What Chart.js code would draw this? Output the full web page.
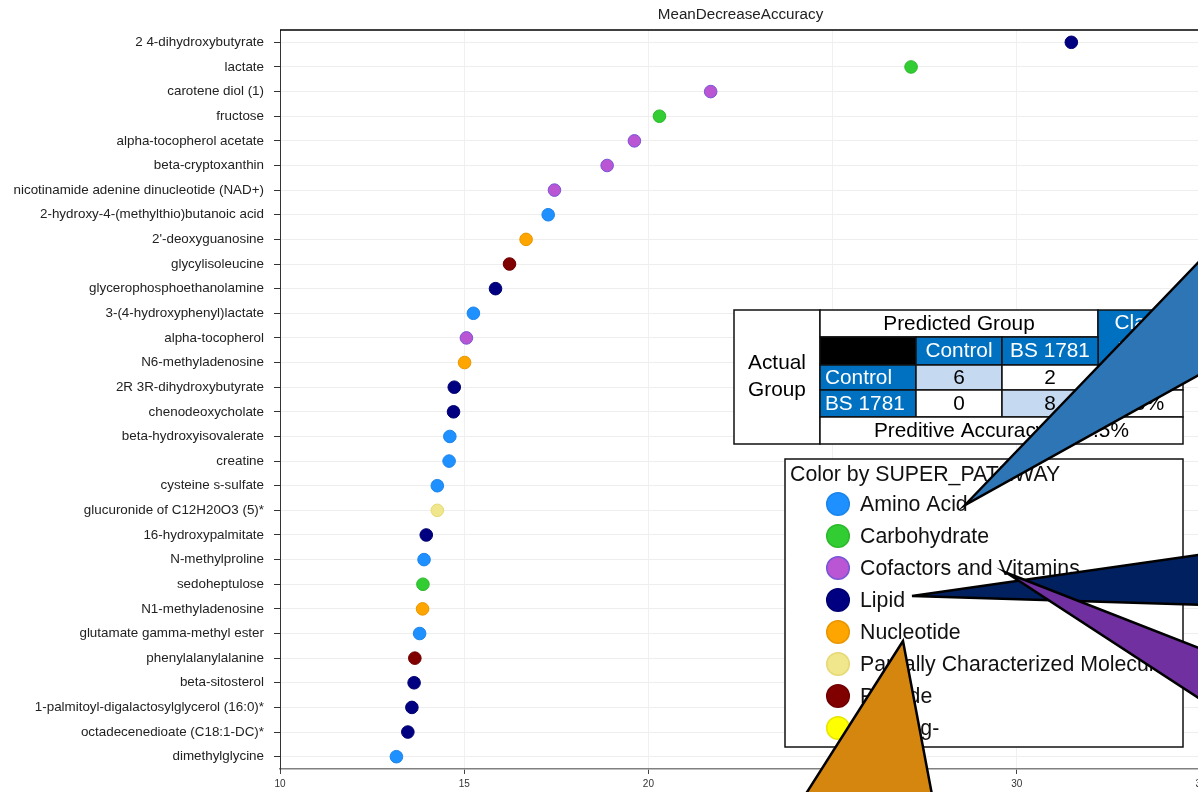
<!DOCTYPE html>
<html>
<head>
<meta charset="utf-8">
<title>MeanDecreaseAccuracy</title>
<script src="https://cdn.jsdelivr.net/npm/chart.js@4/dist/chart.umd.min.js"></script>
<style>
  html, body { margin: 0; padding: 0; background: #fff; overflow: hidden; }
  #wrap { position: absolute; left: 0; top: 0; width: 1240px; height: 792px; }
</style>
</head>
<body>
<div id="wrap"><canvas id="chart" width="1240" height="792"></canvas></div>
<script>
// Metabolites ranked by random-forest importance
const categories = [
  "2 4-dihydroxybutyrate", "lactate", "carotene diol (1)", "fructose",
  "alpha-tocopherol acetate", "beta-cryptoxanthin", "nicotinamide adenine dinucleotide (NAD+)",
  "2-hydroxy-4-(methylthio)butanoic acid", "2'-deoxyguanosine", "glycylisoleucine",
  "glycerophosphoethanolamine", "3-(4-hydroxyphenyl)lactate", "alpha-tocopherol",
  "N6-methyladenosine", "2R 3R-dihydroxybutyrate", "chenodeoxycholate",
  "beta-hydroxyisovalerate", "creatine", "cysteine s-sulfate", "glucuronide of C12H20O3 (5)*",
  "16-hydroxypalmitate", "N-methylproline", "sedoheptulose", "N1-methyladenosine",
  "glutamate gamma-methyl ester", "phenylalanylalanine", "beta-sitosterol",
  "1-palmitoyl-digalactosylglycerol (16:0)*", "octadecenedioate (C18:1-DC)*", "dimethylglycine"
];
const meanDecreaseAccuracy = [
  31.48, 27.13, 21.69, 20.30, 19.62, 18.88, 17.45, 17.28, 16.68, 16.23,
  15.85, 15.25, 15.06, 15.01, 14.73, 14.71, 14.61, 14.59, 14.27, 14.27,
  13.97, 13.91, 13.88, 13.87, 13.79, 13.66, 13.64, 13.58, 13.47, 13.16
];
const superPathway = [
  "Lipid", "Carbohydrate", "Cofactors and Vitamins", "Carbohydrate",
  "Cofactors and Vitamins", "Cofactors and Vitamins", "Cofactors and Vitamins",
  "Amino Acid", "Nucleotide", "Peptide",
  "Lipid", "Amino Acid", "Cofactors and Vitamins",
  "Nucleotide", "Lipid", "Lipid",
  "Amino Acid", "Amino Acid", "Amino Acid", "Partially Characterized Molecules",
  "Lipid", "Amino Acid", "Carbohydrate", "Nucleotide",
  "Amino Acid", "Peptide", "Lipid",
  "Lipid", "Lipid", "Amino Acid"
];
const pathwayNames = [
  "Amino Acid", "Carbohydrate", "Cofactors and Vitamins", "Lipid",
  "Nucleotide", "Partially Characterized Molecules", "Peptide", "Missing-"
];
const pathwayFill = ["#1E90FF", "#32CD32", "#BA55D3", "#000080", "#FFA500", "#F0E68C", "#800000", "#FFFF00"];
const pathwayEdge = ["#1C84EA", "#2DB82D", "#7656D6", "#000070", "#E89600", "#E6D874", "#700000", "#E6E600"];
const xTickValues = [10, 15, 20, 25, 30, 35];

// Confusion matrix summary
const groupNames = ["Control", "BS 1781"];
const confusion = [[6, 2], [0, 8]];
const classError = ["25.0%", "0.0%"];
const predictiveAccuracy = "87.5%";

const FONT = '"Liberation Sans", Arial, Helvetica, sans-serif';
const colorOf = name => pathwayFill[pathwayNames.indexOf(name)];
const edgeOf = name => pathwayEdge[pathwayNames.indexOf(name)];

// Callout wedges drawn over the key and the table
const callouts = [
  { fill: "#2E75B6", pts: [[965, 505], [1240, 219], [1240, 352]] },
  { fill: "#002060", pts: [[912, 596], [1240, 549], [1240, 606]] },
  { fill: "#7030A0", pts: [[1007, 573], [1240, 664], [1240, 725]] },
  { fill: "#D5860F", pts: [[903, 641], [802, 800], [933, 800]] }
];

function drawTable(ctx) {
  const L = 734, T = 310, R = 1183, B = 444;
  const c1 = 820, c2 = 916, c3 = 1002, c4 = 1098;
  const r1 = 337, r2 = 365, r3 = 390, r4 = 417;
  const blue = "#0070C0", light = "#C5D9F1";
  const cells = [
    [L, T, c1, B, "#fff"],
    [c1, T, c4, r1, "#fff"],
    [c4, T, R, r2, blue],
    [c1, r1, c2, r2, "#000"],
    [c2, r1, c3, r2, blue], [c3, r1, c4, r2, blue],
    [c1, r2, c2, r3, blue], [c2, r2, c3, r3, light], [c3, r2, c4, r3, "#fff"], [c4, r2, R, r3, "#fff"],
    [c1, r3, c2, r4, blue], [c2, r3, c3, r4, "#fff"], [c3, r3, c4, r4, light], [c4, r3, R, r4, "#fff"],
    [c1, r4, R, B, "#fff"]
  ];
  ctx.save();
  ctx.lineWidth = 1.5;
  ctx.strokeStyle = "#111";
  cells.forEach(([x0, y0, x1, y1, f]) => {
    ctx.fillStyle = f;
    ctx.fillRect(x0, y0, x1 - x0, y1 - y0);
    ctx.strokeRect(x0, y0, x1 - x0, y1 - y0);
  });
  ctx.font = "20.8px " + FONT;
  ctx.textBaseline = "middle";
  ctx.textAlign = "center";
  ctx.fillStyle = "#000";
  ctx.fillText("Actual", 777, 363);
  ctx.fillText("Group", 777, 390);
  ctx.fillText("Predicted Group", (c1 + c4) / 2, 324);
  ctx.fillStyle = "#fff";
  ctx.fillText("Class", (c4 + R) / 2, 323);
  ctx.fillText("Error", (c4 + R) / 2, 350);
  groupNames.forEach((g, i) => ctx.fillText(g, i === 0 ? (c2 + c3) / 2 : (c3 + c4) / 2, 351));
  ctx.textAlign = "left";
  groupNames.forEach((g, i) => ctx.fillText(g, c1 + 5, i === 0 ? 378 : 404));
  ctx.textAlign = "center";
  ctx.fillStyle = "#000";
  confusion.forEach((row, i) => {
    const y = i === 0 ? 378 : 404;
    ctx.fillText(String(row[0]), (c2 + c3) / 2, y);
    ctx.fillText(String(row[1]), (c3 + c4) / 2, y);
    ctx.fillText(classError[i], (c4 + R) / 2, y);
  });
  ctx.textAlign = "left";
  ctx.fillText("Preditive Accuracy = " + predictiveAccuracy, 874, 431);
  ctx.restore();
}

function drawKey(ctx) {
  const L = 785, T = 459, R = 1183, B = 747;
  ctx.save();
  ctx.fillStyle = "#fff";
  ctx.fillRect(L, T, R - L, B - T);
  ctx.beginPath();
  ctx.rect(L, T, R - L, B - T);
  ctx.clip();
  ctx.font = "21.3px " + FONT;
  ctx.textBaseline = "middle";
  ctx.textAlign = "left";
  ctx.fillStyle = "#111";
  ctx.fillText("Color by SUPER_PATHWAY", 790, 475);
  pathwayNames.forEach((name, i) => {
    const y = 504 + i * 32;
    ctx.beginPath();
    ctx.arc(838, y, 11.3, 0, Math.PI * 2);
    ctx.fillStyle = pathwayFill[i];
    ctx.fill();
    ctx.lineWidth = 1.5;
    ctx.strokeStyle = pathwayEdge[i];
    ctx.stroke();
    ctx.fillStyle = "#111";
    ctx.fillText(name, 860, y + 1);
  });
  ctx.restore();
  ctx.save();
  ctx.lineWidth = 1.5;
  ctx.strokeStyle = "#111";
  ctx.strokeRect(L, T, R - L, B - T);
  ctx.restore();
}

function drawCallouts(ctx) {
  ctx.save();
  ctx.lineWidth = 2.5;
  ctx.lineJoin = "miter";
  ctx.strokeStyle = "#000";
  callouts.forEach(c => {
    ctx.beginPath();
    c.pts.forEach(([x, y], i) => i ? ctx.lineTo(x, y) : ctx.moveTo(x, y));
    ctx.closePath();
    ctx.fillStyle = c.fill;
    ctx.fill();
    ctx.stroke();
  });
  ctx.restore();
}

const overlayPlugin = {
  id: "overlay",
  afterDraw(chart) {
    const { ctx, chartArea } = chart;
    ctx.save();
    // frame line along the top of the plot
    ctx.strokeStyle = "#000";
    ctx.lineWidth = 1.5;
    ctx.beginPath();
    ctx.moveTo(chartArea.left, chartArea.top);
    ctx.lineTo(chartArea.right + 40, chartArea.top);
    ctx.stroke();
    // title
    ctx.font = "15.2px " + FONT;
    ctx.fillStyle = "#222";
    ctx.textAlign = "center";
    ctx.textBaseline = "middle";
    ctx.fillText("MeanDecreaseAccuracy", (chartArea.left + chartArea.right) / 2, 15);
    ctx.restore();
    drawTable(ctx);
    drawKey(ctx);
    drawCallouts(ctx);
  }
};

new Chart(document.getElementById("chart"), {
  type: "line",
  data: {
    labels: categories,
    datasets: [{
      data: meanDecreaseAccuracy,
      showLine: false,
      pointRadius: 6.3,
      pointHoverRadius: 6.3,
      pointBorderWidth: 1,
      pointBackgroundColor: superPathway.map(colorOf),
      pointBorderColor: superPathway.map(edgeOf)
    }]
  },
  options: {
    indexAxis: "y",
    responsive: false,
    animation: false,
    layout: { padding: { top: 30, right: 39, left: 0, bottom: 0 } },
    plugins: { legend: { display: false }, tooltip: { enabled: false }, title: { display: false } },
    scales: {
      x: {
        type: "linear",
        min: 10,
        max: 35,
        afterBuildTicks: s => { s.ticks = xTickValues.map(v => ({ value: v })); },
        afterFit: s => { s.height = 23; },
        grid: { color: "#f0f0f0", tickColor: "#444", tickLength: 5, lineWidth: 1 },
        border: { color: "#808080", width: 1.5 },
        ticks: { font: { family: FONT, size: 10 }, color: "#333", padding: 4, maxRotation: 0 }
      },
      y: {
        type: "category",
        offset: true,
        afterFit: s => { s.width = 280; },
        grid: { offset: false, color: "#eeeeee", tickColor: "#333", tickLength: 6, lineWidth: 1 },
        border: { color: "#333", width: 1 },
        ticks: { font: { family: FONT, size: 13.4 }, color: "#222", padding: 10, autoSkip: false }
      }
    }
  },
  plugins: [overlayPlugin]
});
</script>
</body>
</html>
